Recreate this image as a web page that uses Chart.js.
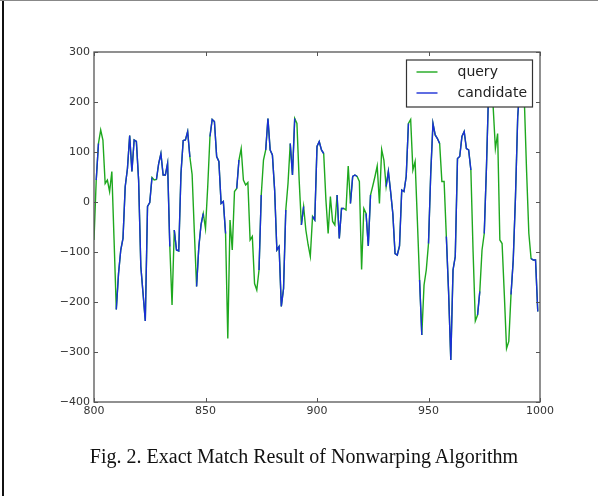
<!DOCTYPE html>
<html>
<head>
<meta charset="utf-8">
<script src="https://cdn.jsdelivr.net/npm/chart.js@4.4.1/dist/chart.umd.min.js"></script>
<style>
  body { margin: 0; background: #fff; }
  #page { position: relative; width: 598px; height: 496px; overflow: hidden; }
  #chart { position: absolute; left: 0; top: 0; }
  .edge-left { position: absolute; left: 2px; top: 0; width: 2px; height: 496px; background: #111; }
  .edge-top { position: absolute; left: 0; top: 0; width: 598px; height: 1px; background: #888; }
  #caption {
    position: absolute; left: 0; top: 446px; width: 608px; text-align: center;
    font-family: "Liberation Serif", "Times New Roman", serif; font-size: 20px; line-height: 20px; color: #111;
  }
</style>
</head>
<body>
<div id="page">
  <canvas id="chart" width="598" height="496"></canvas>
  <div class="edge-left"></div>
  <div class="edge-top"></div>
  <div id="caption">Fig. 2. Exact Match Result of Nonwarping Algorithm</div>
</div>
<script>
// series start at x = 800, one sample per step
const xStart = 800;
const seriesNames = ['query', 'candidate'];
const seriesColors = ['#1ea81e', '#1a2fd6'];

const query = [
  -76, 44, 117, 144, 124, 37, 44, 21, 61, -76,
  -215, -143, -96, -73, 31, 67, 133, 61, 124, 121,
  44, -129, -183, -238, -9, -1, 49, 44, 45, 77,
  97, 54, 54, 77, -89, -206, -56, -96, -98, 57,
  123, 124, 141, 90, 55, -60, -169, -90, -45, -23,
  -53, 31, 131, 165, 161, 91, 81, -3, 1, -63,
  -273, -36, -96, 21, 27, 84, 107, 44, 34, 39,
  -76, -69, -163, -176, -136, 14, 84, 104, 167, 104,
  94, 24, -96, -89, -209, -173, -16, 37, 117, 54,
  167, 157, 44, -46, -9, -56, -85, -109, -29, -36,
  111, 121, 104, 97, 4, -63, 11, -39, -46, 14,
  -73, -13, -13, -16, 72, -3, 51, 54, 51, 41,
  -135, -13, -23, -88, 14, 32, 51, 72, -3, 105,
  84, 31, 61, 21, -23, -103, -106, -88, 24, 21,
  51, 157, 165, 64, 81, -36, -156, -266, -166, -136,
  -83, 57, 157, 134, 127, 117, 41, 41, -69, -179,
  -316, -136, -109, 87, 91, 131, 141, 107, 104, 64,
  -100, -238, -226, -179, -96, -63, 71, 230, 245, 190,
  107, 137, -76, -83, -185, -293, -279, -185, -116, 10,
  170, 235, 240, 200, 60, -63, -113, -116, -116, -219
];

const candidate = [
  null, 44, 117, null, null, null, null, null, null, null,
  -215, -143, -96, -73, 31, 67, 133, 61, 124, 121,
  44, -129, -183, -238, -9, -1, 49, null, 45, 77,
  97, 54, 54, 77, -89, null, -56, -96, -98, 57,
  123, 124, 141, 90, null, null, -169, -90, -45, -23,
  null, null, 131, 165, 161, 91, 81, -3, 1, -63,
  null, null, null, null, 27, 84, null, null, null, null,
  null, null, null, null, -136, 14, null, 104, 167, 104,
  94, 24, -96, -89, -209, -173, -16, null, 117, 54,
  167, null, null, -46, -9, null, null, null, -29, -36,
  111, 121, 104, 97, null, null, null, null, null, 14,
  -73, -13, -13, null, null, -3, 51, 54, 51, null,
  null, null, -23, -88, 14, null, null, null, null, null,
  null, 31, 61, 21, -23, -103, -106, -88, 24, 21,
  51, 157, null, null, null, null, -156, -266, null, null,
  -83, 57, 157, 134, 127, 117, null, null, -69, -179,
  -316, -136, -109, 87, 91, 131, 141, 107, 104, 64,
  null, null, -226, -179, null, -63, 71, 230, 245, null,
  null, null, null, null, null, null, null, -185, -116, 10,
  170, 235, 240, null, null, null, -113, -116, -116, -219
];

function toPoints(values) {
  return values.map((v, i) => ({ x: xStart + i, y: v }));
}

const tickFont = { family: 'DejaVu Sans', size: 11 };
const frameColor = '#555';

// matplotlib-like frame, inward ticks on all sides, legend box inside the axes
const framePlugin = {
  id: 'frame',
  afterDraw(chart) {
    const ctx = chart.ctx;
    const a = chart.chartArea;
    const xs = chart.scales.x;
    const ys = chart.scales.y;
    ctx.save();
    ctx.strokeStyle = frameColor;
    ctx.lineWidth = 1;
    ctx.beginPath();
    xs.ticks.forEach(t => {
      const px = Math.round(xs.getPixelForValue(t.value)) + 0.5;
      ctx.moveTo(px, a.bottom); ctx.lineTo(px, a.bottom - 4);
      ctx.moveTo(px, a.top); ctx.lineTo(px, a.top + 4);
    });
    ys.ticks.forEach(t => {
      const py = Math.round(ys.getPixelForValue(t.value)) + 0.5;
      ctx.moveTo(a.left, py); ctx.lineTo(a.left + 4, py);
      ctx.moveTo(a.right, py); ctx.lineTo(a.right - 4, py);
    });
    ctx.stroke();
    ctx.lineWidth = 1.3;
    ctx.strokeRect(a.left, a.top, a.right - a.left, a.bottom - a.top);

    // legend
    const bw = 126, bh = 47;
    const bx = a.right - 7.5 - bw, by = a.top + 8;
    ctx.fillStyle = '#fff';
    ctx.fillRect(bx, by, bw, bh);
    ctx.strokeStyle = '#333';
    ctx.lineWidth = 1.2;
    ctx.strokeRect(bx, by, bw, bh);
    ctx.font = '14px "DejaVu Sans"';
    ctx.textBaseline = 'middle';
    ctx.textAlign = 'left';
    chart.data.datasets.forEach((ds, i) => {
      const ly = by + 12 + i * 21;
      ctx.strokeStyle = ds.borderColor;
      ctx.lineWidth = 1.4;
      ctx.beginPath();
      ctx.moveTo(bx + 10, ly); ctx.lineTo(bx + 31, ly);
      ctx.stroke();
      ctx.fillStyle = '#222';
      ctx.fillText(ds.label, bx + 51, ly);
    });
    ctx.restore();
  }
};

new Chart(document.getElementById('chart'), {
  type: 'line',
  data: {
    datasets: [
      { label: seriesNames[0], data: toPoints(query), borderColor: seriesColors[0], borderWidth: 1.4, order: 1 },
      { label: seriesNames[1], data: toPoints(candidate), borderColor: seriesColors[1], borderWidth: 1.4, order: 0 }
    ]
  },
  options: {
    responsive: false,
    animation: false,
    events: [],
    layout: { padding: { left: 0, top: 52, right: 58, bottom: 0 } },
    elements: { point: { radius: 0 }, line: { tension: 0, fill: false } },
    plugins: { legend: { display: false }, tooltip: { enabled: false } },
    scales: {
      x: {
        type: 'linear', min: 800, max: 1000,
        grid: { display: false, drawTicks: false },
        border: { display: false },
        ticks: { stepSize: 50, font: tickFont, color: '#333', padding: 3, maxRotation: 0, callback: v => String(v) },
        afterFit(scale) { scale.height = 94; }
      },
      y: {
        min: -400, max: 300,
        grid: { display: false, drawTicks: false },
        border: { display: false },
        ticks: {
          stepSize: 100, font: tickFont, color: '#333', padding: 4,
          callback: v => String(v).replace('-', '\u2212')
        },
        afterFit(scale) { scale.width = 94; }
      }
    }
  },
  plugins: [framePlugin]
});
</script>
</body>
</html>
